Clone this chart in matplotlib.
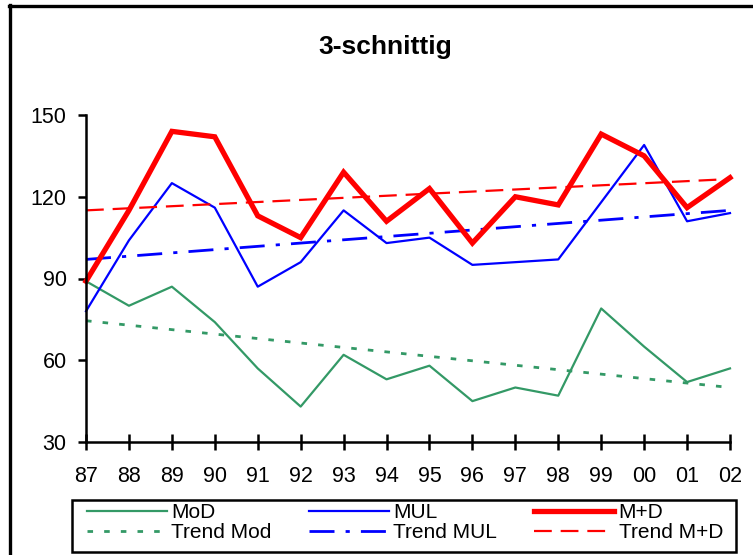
import matplotlib.pyplot as plt
from matplotlib.lines import Line2D
from matplotlib.patches import Rectangle

plt.rcParams['font.family'] = ['Liberation Sans', 'DejaVu Sans']

years = ['87', '88', '89', '90', '91', '92', '93', '94',
         '95', '96', '97', '98', '99', '00', '01', '02']
mod = [89, 80, 87, 74, 57, 43, 62, 53, 58, 45, 50, 47, 79, 65, 52, 57]
mul = [78, 104, 125, 116, 87, 96, 115, 103, 105, 95, 96, 97, 118, 139, 111, 114]
mpd = [89, 115, 144, 142, 113, 105, 129, 111, 123, 103, 120, 117, 143, 135, 116, 127]

# Trendlinien: Werte am ersten und letzten Jahr
trend_mod = [74.5, 50]
trend_mul = [97, 115]
trend_mpd = [115, 126.5]

green = '#339966'
blue = '#0000ff'
red = '#ff0000'

W, H = 753, 555
fig = plt.figure(figsize=(W / 100, H / 100), dpi=100)
ax = fig.add_axes([86 / W, 1 - 442 / H, (730 - 86) / W, (442 - 115) / H])

x = list(range(len(years)))
ends = [x[0], x[-1]]

ax.plot(x, mod, color=green, lw=1.6, label='MoD', clip_on=False)
ax.plot(ends, trend_mod, color=green, lw=2, dashes=(2, 4), label='Trend Mod', clip_on=False)
ax.plot(x, mul, color=blue, lw=1.6, label='MUL', clip_on=False)
ax.plot(ends, trend_mul, color=blue, lw=2, dashes=(9, 4, 1.5, 4), label='Trend MUL', clip_on=False)
ax.plot(x, mpd, color=red, lw=3.8, label='M+D', clip_on=False, solid_joinstyle='miter')
ax.plot(ends, trend_mpd, color=red, lw=1.6, dashes=(8, 4), label='Trend M+D', clip_on=False)

ax.set_xlim(0, 15)
ax.set_ylim(30, 150)
ax.set_xticks(x)
ax.set_xticklabels(years)
ax.set_yticks([30, 60, 90, 120, 150])

for side in ['top', 'right']:
    ax.spines[side].set_visible(False)
for side in ['left', 'bottom']:
    ax.spines[side].set_linewidth(1.8)
    ax.spines[side].set_color('black')

ax.tick_params(axis='x', direction='inout', length=11, width=1.8, pad=12, labelsize=15.5)
ax.tick_params(axis='y', direction='out', length=6, width=1.8, pad=8, labelsize=15.5)

fig.text(385 / W, 1 - 47 / H, '3-schnittig', ha='center', va='center',
         fontsize=19, fontweight='bold')

# Legende ohne eigenen Rahmen, Rahmen separat
leg = fig.legend(loc='upper left', ncol=3, frameon=False,
                 bbox_to_anchor=(87 / W, 1 - 503 / H),
                 fontsize=15, handlelength=3.85, handletextpad=0.2,
                 columnspacing=1.78, labelspacing=0.06, borderpad=0,
                 borderaxespad=0)
fig.add_artist(Rectangle((72 / W, 1 - 552 / H), (736 - 72) / W, 52 / H,
                         transform=fig.transFigure, fill=False,
                         edgecolor='black', lw=1.8))

# Rahmen um das Diagramm
fig.add_artist(Line2D([9 / W, 1], [1 - 6 / H, 1 - 6 / H], color='black', lw=2.4,
                      transform=fig.transFigure))
fig.add_artist(Line2D([10 / W, 10 / W], [0, 1 - 5 / H], color='black', lw=2.4,
                      transform=fig.transFigure))

fig.savefig('out.png', dpi=100)
